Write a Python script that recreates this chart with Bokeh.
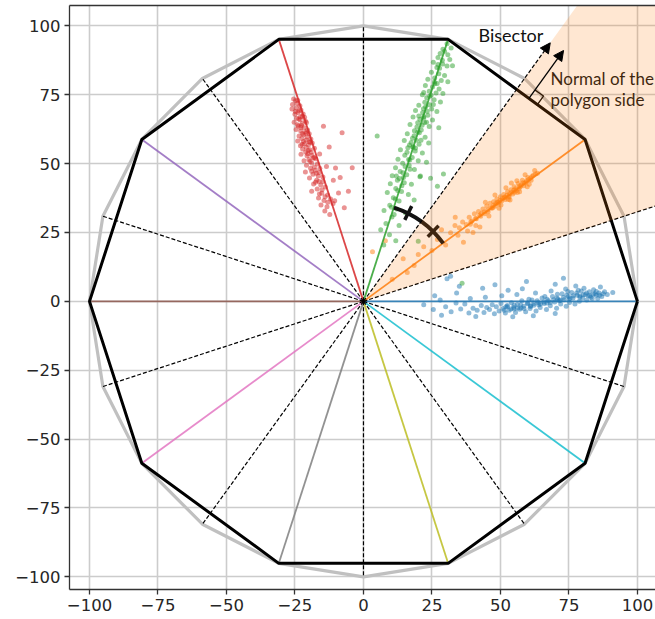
import numpy as np
from bokeh.plotting import figure
from bokeh.models import (Range1d, FixedTicker, CustomJSTickFormatter, LinearAxis,
                          Arrow, NormalHead)
from bokeh.embed import file_html
from bokeh.resources import INLINE
from bokeh.core.properties import value

# ---- geometry -------------------------------------------------------------
radius = 100
vertex_angles = [0, 36, 72, 108, 144, 180, 216, 252, 288, 324]          # decagon vertices
vertex_colors = ["#1f77b4", "#ff7f0e", "#2ca02c", "#d62728", "#9467bd",
                 "#8c564b", "#e377c2", "#7f7f7f", "#bcbd22", "#17becf"]
bisector_angles = [90, 126, 162, 198, 234, 270, 306, 342]               # plain dashed bisectors
long_bisector_angle = 18                                                 # runs out of the frame
arrow_bisector_angle = 54                                                # bisector drawn as arrow
fine_angles = list(range(0, 360, 18))                                    # 20-gon vertices
wedge_angles = [18, 54]
arc_angles = [36, 72]
arc_tick_angles = [45, 63]

ticks = [-100, -75, -50, -25, 0, 25, 50, 75, 100]

# ---- sample clouds ----------------------------------------------------------
blue_x = [89.0, 88.0, 87.0, 86.0, 85.5, 84.5, 84.0, 83.0, 82.5, 81.5, 81.0, 80.0, 79.5, 78.8,
          78.0, 77.2, 76.5, 76.0, 75.2, 74.8, 74.0, 73.2, 72.5, 72.0, 71.0, 70.5, 69.8, 69.0,
          68.2, 67.5, 66.8, 66.0, 65.2, 64.5, 63.8, 63.0, 62.2, 61.5, 60.8, 60.0, 59.2, 58.5,
          57.8, 57.0, 56.2, 55.5, 54.8, 54.0, 53.2, 52.5, 51.8, 51.0, 50.2, 49.5, 48.5, 47.8,
          47.0, 46.0, 45.0, 44.0, 43.0, 41.5, 40.0, 38.5, 37.0, 35.5, 33.8, 32.0, 30.0, 28.0,
          25.5, 22.0, 80.5, 73.8, 68.5, 62.8, 56.0, 52.8, 50.5, 44.5, 39.0, 34.0, 26.0, 91.0,
          86.5, 77.5, 70.0, 58.0, 48.0, 43.5, 30.5, 35.0, 41.0, 62.0, 70.0, 54.5, 28.5, 59.5,
          73.0, 31.8, 82.0, 79.0, 75.0, 71.5, 67.0, 64.0, 61.0, 57.5, 55.0, 52.0, 85.0, 83.5,
          87.5, 86.2, 85.0, 83.8, 82.6, 81.4, 80.2, 79.0, 77.8, 76.6, 75.4, 74.2, 73.0, 71.8,
          70.6, 69.4, 68.2, 67.0, 65.8, 64.6, 63.4, 62.2, 61.0, 59.8, 58.6, 57.4, 56.2, 55.0,
          53.8, 52.6, 51.4, 78.4, 74.6, 70.8, 66.2, 60.4]
blue_y = [2.5, 3.5, 1.8, 3.0, 1.0, 2.8, 4.2, 1.5, 3.5, 0.5, 2.5, 1.2, 3.8, 0.0,
          2.2, -1.0, 1.2, 3.2, -0.4, 1.8, -1.8, 0.6, 2.8, -1.0, 0.8, -2.5, -0.2, 1.8,
          -1.6, 0.2, -3.0, -0.8, 1.2, -2.2, -0.5, -3.5, -1.4, 0.5, -2.6, -0.9, -3.8, -1.8,
          0.2, -2.9, -1.1, -4.0, -2.2, -0.5, -3.2, -1.5, -4.2, -2.6, -0.8, -3.5, -2.0, -4.5,
          -1.2, -3.0, -2.2, -4.0, -1.5, -3.2, -2.5, -4.2, -1.0, -2.8, -0.6, -3.8, -2.0, 0.5,
          -3.0, -1.2, 4.8, 4.5, 3.8, 3.0, 2.5, 4.0, 2.0, 1.5, 1.0, 3.0, 2.0, 3.2,
          5.2, 5.6, 6.2, 4.6, 6.0, 4.8, 8.2, 5.5, -5.5, -5.2, -4.4, -5.6, -5.0, 7.2,
          8.4, 9.1, 2.0, 1.5, 0.8, 0.2, -0.6, -1.2, -1.9, -2.4, -2.8, -2.0, 2.2, 1.0,
          2.8, 2.2, 3.6, 2.6, 2.0, 3.0, 2.4, 1.9, 3.0, 2.0, 1.0, 2.2, 1.4, 0.4,
          1.2, 0.6, -0.4, 0.8, -0.2, -1.0, 0.2, -0.8, -1.6, -0.6, -2.6, -1.2, -2.4, -1.4,
          -2.8, -2.0, -3.2, 4.0, 3.6, 2.6, 1.8, 0.8]

orange_x = [63.5, 62.0, 61.2, 60.0, 59.3, 58.5, 58.0, 57.2, 56.5, 55.8, 55.0, 54.5, 53.8, 53.0,
            52.6, 51.8, 51.2, 50.5, 50.0, 49.3, 48.7, 48.0, 47.5, 46.8, 46.2, 45.5, 45.0, 44.3,
            43.6, 42.8, 42.0, 41.2, 40.5, 39.6, 38.6, 37.5, 36.2, 35.0, 33.4, 31.8, 57.0, 53.5,
            49.5, 45.8, 60.5, 56.0, 52.0, 48.0, 44.5, 41.0, 38.0, 34.5, 62.5, 59.0, 54.0,
            61.0, 58.8, 56.8, 55.2, 53.2, 51.5, 49.0, 47.2, 43.0, 39.0,
            28.5, 25.0, 22.0, 18.5, 14.5, 10.5, 30.0, 33.5, 36.5, 40.0, 27.0, 20.0, 3.3, 8.0,
            42.5, 16.0,
            62.8, 61.5, 60.3, 59.6, 58.2, 57.6, 56.9, 55.5, 54.9, 54.2, 53.4, 52.4, 51.6, 50.8,
            49.9, 49.1, 48.3, 47.6, 46.5, 45.3, 44.0, 42.4, 40.9, 39.2, 59.8, 56.2, 52.9, 50.2]
orange_y = [46.5, 45.8, 44.0, 45.0, 43.2, 42.0, 44.0, 41.5, 42.8, 40.2, 41.6, 39.0, 40.5, 38.2,
            39.8, 37.0, 38.8, 36.5, 38.0, 35.4, 37.2, 34.5, 36.2, 33.8, 35.6, 32.5, 34.6, 31.8,
            33.5, 30.9, 32.6, 30.0, 31.8, 29.2, 30.5, 27.9, 28.8, 26.7, 27.5, 24.9, 39.8, 36.8,
            33.8, 31.0, 42.5, 43.8, 41.2, 38.6, 36.0, 27.5, 25.5, 24.0, 47.5, 46.0, 43.0,
            44.8, 42.9, 41.0, 39.6, 37.9, 37.6, 35.9, 34.0, 31.9, 28.0,
            26.0, 18.5, 19.8, 13.0, 15.5, 8.0, 20.5, 30.5, 21.5, 25.0, 22.5, 17.0, 18.0, 22.0,
            27.0, 10.5,
            46.2, 45.3, 44.2, 43.8, 43.1, 42.2, 41.9, 40.9, 40.3, 39.6, 39.1, 38.5, 37.9, 37.4,
            36.6, 36.1, 35.5, 34.9, 34.0, 33.2, 32.4, 31.3, 30.1, 28.9, 41.6, 39.5, 37.0, 35.0]

green_x = [30.5, 32.0, 29.0, 28.0, 30.8, 27.2, 31.5, 25.5, 28.9, 30.5, 26.8, 32.5, 24.8, 27.5,
           29.6, 26.0, 23.5, 28.4, 30.8, 22.6, 25.2, 27.6, 24.0, 26.5, 21.5, 29.0, 23.1, 25.8,
           28.1, 20.2, 22.7, 24.9, 19.0, 21.6, 26.8, 23.5, 18.1, 20.6, 25.2, 22.3, 17.0, 19.5,
           24.0, 21.1, 27.5, 16.0, 18.5, 22.5, 14.9, 17.4, 20.3, 23.8, 16.2, 13.5, 18.9, 21.5,
           15.1, 17.8, 12.6, 20.0, 14.3, 16.7, 23.0, 11.7, 18.6, 13.4, 15.8, 10.5, 20.6, 12.4,
           14.9, 17.5, 9.8, 11.8, 13.9, 16.4, 8.7, 10.9, 13.0, 18.5, 9.6, 12.1, 7.5, 15.3,
           10.4, 8.2, 13.0, 6.3, 9.5, 11.8, 7.4, 5.0, 20.8, 24.5, 29.2, 27.0, 20.0, 36.0,
           26.0, 24.2, 22.0, 19.8, 18.0, 16.5, 14.6, 21.0, 23.0, 25.5,
           29.6, 28.8, 27.8, 25.9, 26.9, 24.7, 22.4, 24.1, 21.9, 23.3, 20.2, 22.0, 19.8, 21.4,
           18.6, 20.4, 17.9, 19.3, 16.8, 18.1, 15.9, 16.9, 15.2, 14.4, 13.1, 14.0, 12.5, 11.6,
           10.2, 11.2, 22.0, 27.2, 19.0, 17.0, 12.0]
green_y = [93.5, 92.0, 91.5, 90.0, 89.5, 88.5, 87.8, 86.8, 86.2, 85.4, 84.9, 85.5, 83.2, 82.6,
           82.0, 81.1, 80.6, 80.2, 79.7, 78.4, 77.8, 77.1, 76.3, 75.6, 75.0, 75.5, 73.9, 73.2,
           72.4, 71.2, 70.6, 69.8, 69.3, 68.5, 68.9, 67.6, 66.9, 66.1, 65.8, 64.9, 64.2, 63.3,
           63.5, 62.2, 63.0, 60.8, 60.1, 59.6, 58.4, 57.7, 57.0, 57.5, 55.8, 55.0, 54.6, 53.9,
           53.0, 52.2, 51.6, 51.0, 50.1, 49.3, 50.5, 48.5, 47.9, 47.1, 46.0, 45.6, 45.2, 44.0,
           43.1, 42.5, 42.7, 41.0, 39.9, 38.8, 39.5, 37.6, 36.4, 36.8, 34.9, 33.5, 33.0, 32.2,
           30.6, 28.3, 27.5, 26.0, 24.2, 22.0, 20.5, 60.0, 45.5, 44.7, 46.2, 41.8, 21.8, 6.6,
           79.0, 74.5, 67.0, 61.5, 56.0, 51.5, 45.0, 58.5, 65.0, 71.5,
           90.8, 87.5, 84.6, 79.6, 79.1, 74.8, 72.3, 71.4, 69.9, 69.0, 67.3, 66.6, 64.8, 63.9,
           61.9, 61.2, 59.2, 58.5, 56.8, 56.0, 54.1, 51.3, 49.0, 46.7, 44.6, 42.0, 40.2, 37.2,
           34.2, 31.5, 75.8, 86.0, 55.7, 48.0, 45.5]

red_x = [-25.5, -24.8, -24.0, -25.9, -23.2, -24.5, -26.1, -22.8, -23.9, -25.0, -22.0, -24.4,
         -21.5, -23.1, -25.3, -22.4, -20.8, -23.8, -21.7, -24.6, -22.9, -20.4, -21.9, -23.5,
         -19.8, -22.5, -20.9, -24.0, -19.2, -21.6, -23.0, -20.1, -18.7, -22.2, -19.6, -21.1,
         -17.9, -20.6, -22.8, -18.8, -19.9, -21.7, -17.5, -18.9, -20.8, -16.8, -19.3, -17.6,
         -21.2, -15.9, -18.4, -16.5, -19.7, -17.1, -14.8, -18.2, -15.6, -16.9, -13.9, -18.9,
         -15.2, -13.1, -16.4, -14.4, -12.0, -15.5, -13.3, -11.1, -14.1, -12.3,
         -14.6, -7.8, -4.1, -9.1, -5.5, -10.2, -12.5, -11.0, -8.5, -13.5, -16.0, -10.5, -7.0,
         -23.0, -21.0, -19.5, -18.0, -16.2, -14.8, -20.2, -22.6,
         -24.2, -23.5, -24.9, -22.3, -23.6, -21.2, -22.9, -24.1, -21.1, -22.3, -20.6, -21.9,
         -19.9, -20.9, -22.4, -19.1, -20.3, -18.3, -19.5, -17.9, -18.9, -17.2, -16.2, -17.5,
         -15.1, -16.1, -14.0, -13.0]
red_y = [73.5, 72.8, 73.0, 71.5, 71.0, 70.2, 69.8, 69.5, 68.6, 67.9, 68.0, 66.5,
         66.8, 65.9, 65.0, 64.6, 64.9, 63.7, 63.0, 62.4, 61.8, 62.2, 60.5, 60.0,
         60.8, 59.1, 58.6, 58.2, 58.9, 57.2, 56.5, 56.8, 57.5, 55.3, 55.0, 54.2,
         55.6, 52.9, 53.4, 53.0, 51.5, 51.0, 51.8, 50.2, 49.4, 49.9, 48.3, 47.6,
         47.0, 48.2, 46.1, 45.5, 44.8, 44.0, 45.1, 42.6, 42.2, 40.8, 41.5, 40.0,
         39.2, 38.6, 37.5, 36.6, 37.2, 35.0, 34.3, 35.5, 32.8, 31.5,
         63.6, 61.2, 48.5, 39.3, 40.0, 48.4, 56.0, 44.0, 45.0, 49.0, 53.5, 36.5, 34.0,
         67.0, 61.0, 57.8, 52.2, 46.8, 43.5, 54.8, 63.8,
         71.8, 69.2, 68.9, 67.2, 66.2, 65.5, 63.1, 64.1, 61.6, 60.9, 59.7, 58.0,
         57.9, 55.9, 57.0, 54.1, 53.6, 52.0, 50.8, 48.8, 47.2, 46.5, 43.5, 43.2,
         40.5, 39.0, 38.0, 36.0]

cloud_x = [blue_x, orange_x, green_x, red_x]
cloud_y = [blue_y, orange_y, green_y, red_y]
cloud_colors = vertex_colors[:4]


def polar(r, deg):
    a = np.deg2rad(deg)
    return r * np.cos(a), r * np.sin(a)


# ---- figure ---------------------------------------------------------------
p = figure(width=655, height=619, output_backend="svg", toolbar_location=None,
           x_range=Range1d(-107.3, 106.6), y_range=Range1d(-104.6, 107.4),
           min_border_left=69, min_border_right=0, min_border_top=5, min_border_bottom=30)
p.outline_line_color = None
p.background_fill_color = "white"

fmt = CustomJSTickFormatter(code="return tick < 0 ? '\u2212' + Math.abs(tick) : '' + tick;")
for ax in (p.xaxis[0], p.yaxis[0]):
    ax.ticker = FixedTicker(ticks=ticks)
    ax.formatter = fmt
    ax.major_label_text_font = "DejaVu Sans"
    ax.major_label_text_font_size = "16.5px"
    ax.major_label_text_color = "#262626"
    ax.major_tick_out = 5
    ax.major_tick_in = 0
    ax.minor_tick_out = 0
    ax.minor_tick_in = 0
    ax.major_tick_line_color = "#333333"
    ax.major_tick_line_width = 1.3
    ax.axis_line_color = "#333333"
    ax.axis_line_width = 1.3
    ax.major_label_standoff = 4

top_axis = LinearAxis(ticker=FixedTicker(ticks=[]), major_label_text_font_size="0px",
                      major_tick_out=0, major_tick_in=0, minor_tick_out=0, minor_tick_in=0,
                      axis_line_color="#333333", axis_line_width=1.3, major_label_standoff=0)
p.add_layout(top_axis, "above")

p.grid.ticker = FixedTicker(ticks=ticks)
p.grid.grid_line_color = "#cccccc"
p.grid.grid_line_width = 1.6

# sample clouds
for xs, ys, c in zip(cloud_x, cloud_y, cloud_colors):
    p.scatter(xs, ys, size=5, fill_color=c, line_color=None, fill_alpha=0.5)

# radial lines to the decagon vertices
vx, vy = polar(radius, np.array(vertex_angles))
p.segment(x0=0, y0=0, x1=vx, y1=vy, line_color=vertex_colors, line_width=1.8, line_alpha=0.85)

# 20-gon (grey) and decagon (black)
fx, fy = polar(radius, np.array(fine_angles + [fine_angles[0]]))
p.line(fx, fy, line_color="#c0c0c0", line_width=3.2)
dx, dy = polar(radius, np.array(vertex_angles + [vertex_angles[0]]))
p.line(dx, dy, line_color="black", line_width=3)

# dashed bisectors
bx, by = polar(radius, np.array(bisector_angles))
p.segment(x0=0, y0=0, x1=bx, y1=by, line_color="black", line_width=1.2, line_dash="4 2")
lx, ly = polar(140, long_bisector_angle)
p.segment(x0=[0], y0=[0], x1=[lx], y1=[ly], line_color="black", line_width=1.2, line_dash="4 2")

ax_, ay_ = polar(116, arrow_bisector_angle)
p.add_layout(Arrow(end=NormalHead(size=10, fill_color="black", line_color="black"),
                   x_start=0, y_start=0, x_end=ax_, y_end=ay_,
                   line_color="black", line_width=1.2, line_dash="4 2"))

# normal of the polygon side with its right-angle mark
ax1, ay1 = polar(radius, 36)
ax2, ay2 = polar(radius, 72)
t = 0.41
foot_x, foot_y = ax1 + t * (ax2 - ax1), ay1 + t * (ay2 - ay1)
nx, ny = polar(1, 54)
sx, sy = (ax1 - ax2) / np.hypot(ax1 - ax2, ay1 - ay2), (ay1 - ay2) / np.hypot(ax1 - ax2, ay1 - ay2)
p.add_layout(Arrow(end=NormalHead(size=10, fill_color="black", line_color="black"),
                   x_start=foot_x, y_start=foot_y, x_end=foot_x + 21.5 * nx, y_end=foot_y + 21.5 * ny,
                   line_color="black", line_width=1.3))
s = 3.8
p.line([foot_x + s * sx, foot_x + s * sx + s * nx, foot_x + s * nx],
       [foot_y + s * sy, foot_y + s * sy + s * ny, foot_y + s * ny],
       line_color="black", line_width=1.3)

# equal-angle arc between neighbouring vertex lines
p.arc(x=[0], y=[0], radius=36, start_angle=np.deg2rad(arc_angles[0]), end_angle=np.deg2rad(arc_angles[1]),
      line_color="#111111", line_width=4)
tk = np.array(arc_tick_angles)
t0x, t0y = polar(33.2, tk)
t1x, t1y = polar(38.8, tk)
p.segment(x0=t0x, y0=t0y, x1=t1x, y1=t1y, line_color="#111111", line_width=3.5)

# labels
p.text(x=[42], y=[96.6], text=["Bisector"], text_font=value("Lato"), text_font_size="18px",
       text_align="left", text_baseline="middle", text_color="#111111")
p.text(x=[68.3, 68.3], y=[80.8, 73.3], text=["Normal of the", "polygon side"],
       text_font=value("Lato"), text_font_size="17px",
       text_align="left", text_baseline="middle", text_color="#111111")

# shaded sector between two bisectors, laid over everything
wx, wy = polar(300, np.array(wedge_angles))
p.patch([0, wx[0], wx[1]], [0, wy[0], wy[1]], fill_color="#ff7f0e", fill_alpha=0.19, line_color=None)

open("out.html", "w").write(file_html(p, INLINE))
